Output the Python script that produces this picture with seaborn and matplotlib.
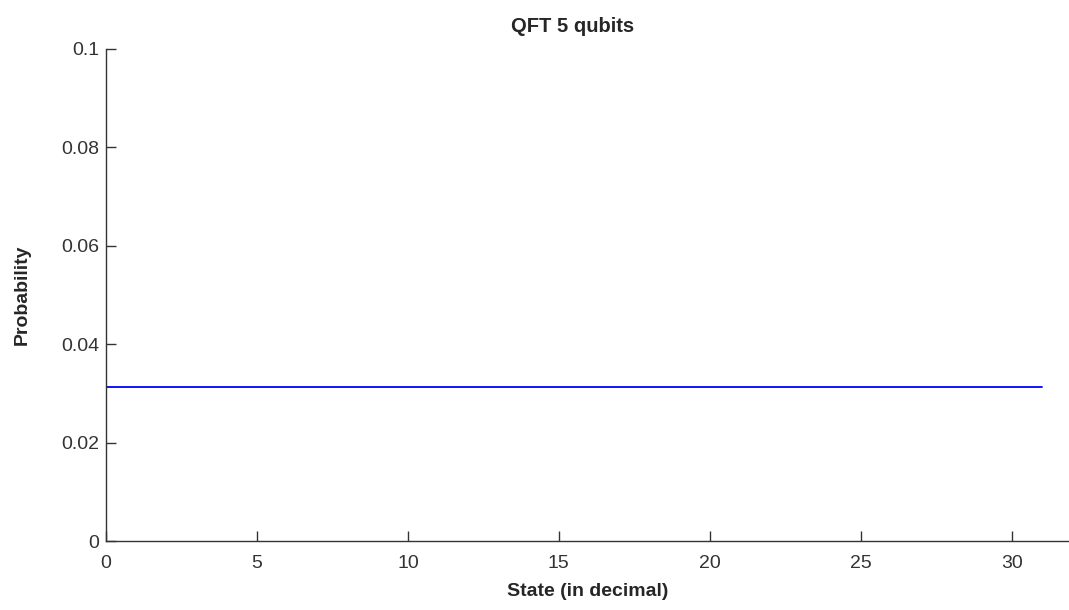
import matplotlib
matplotlib.use("Agg")
import matplotlib.pyplot as plt
import seaborn as sns
import pandas as pd

states = [0, 1, 2, 3, 4, 5, 6, 7, 8, 9, 10, 11, 12, 13, 14, 15,
          16, 17, 18, 19, 20, 21, 22, 23, 24, 25, 26, 27, 28, 29, 30, 31]
probabilities = [0.03125, 0.03125, 0.03125, 0.03125, 0.03125, 0.03125, 0.03125, 0.03125,
                 0.03125, 0.03125, 0.03125, 0.03125, 0.03125, 0.03125, 0.03125, 0.03125,
                 0.03125, 0.03125, 0.03125, 0.03125, 0.03125, 0.03125, 0.03125, 0.03125,
                 0.03125, 0.03125, 0.03125, 0.03125, 0.03125, 0.03125, 0.03125, 0.03125]
x_ticks = [0, 5, 10, 15, 20, 25, 30]
y_ticks = [0, 0.02, 0.04, 0.06, 0.08, 0.1]
y_tick_labels = ["0", "0.02", "0.04", "0.06", "0.08", "0.1"]

sns.set_theme(style="white")
plt.rcParams['font.family'] = ['Liberation Sans', 'DejaVu Sans']

df = pd.DataFrame({"state": states, "prob": probabilities})

fig = plt.figure(figsize=(10.69, 6.10), dpi=100)
ax = fig.add_axes([0.0992, 0.1131, 0.9008, 0.8066])
sns.lineplot(data=df, x="state", y="prob", color="#0000FF", linewidth=1.3, ax=ax)

ax.set_xlim(0, 31.9)
ax.set_ylim(0, 0.1)
ax.set_xticks(x_ticks)
ax.set_xticklabels([str(t) for t in x_ticks])
ax.set_yticks(y_ticks)
ax.set_yticklabels(y_tick_labels)

for side in ["top", "right"]:
    ax.spines[side].set_visible(False)
for side in ["left", "bottom"]:
    ax.spines[side].set_color("#333333")
    ax.spines[side].set_linewidth(1.0)

ax.tick_params(direction="in", length=7, width=1.0, color="#333333",
               labelsize=14, labelcolor="#333333", left=True, bottom=True)
ax.tick_params(axis="x", pad=10)
ax.tick_params(axis="y", pad=5)

ax.set_title("QFT 5 qubits", fontsize=14.5, fontweight="bold", x=0.484, pad=12)
ax.set_xlabel("State (in decimal)", fontsize=14, fontweight="bold", labelpad=8)
ax.set_ylabel("Probability", fontsize=14, fontweight="bold", labelpad=22)

fig.savefig("out.png", dpi=100)
